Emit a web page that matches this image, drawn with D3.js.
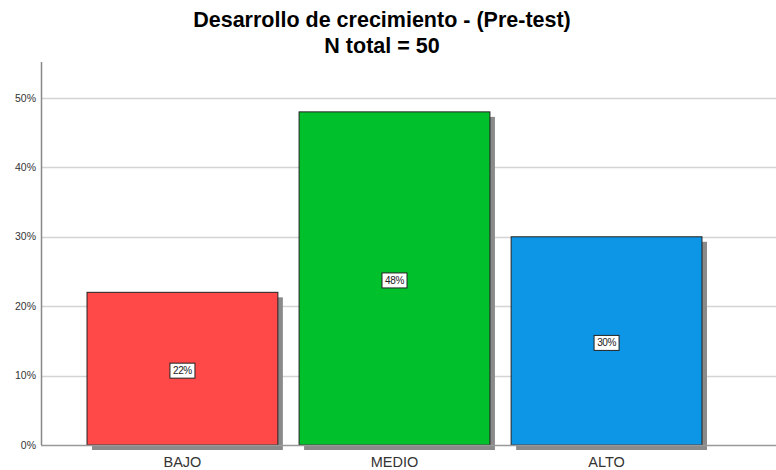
<!DOCTYPE html>
<html>
<head>
<meta charset="utf-8">
<script src="https://cdn.jsdelivr.net/npm/d3@7"></script>
<style>
  body { margin: 0; background: #fff; }
  svg { display: block; font-family: Arial, "Liberation Sans", sans-serif; }
</style>
</head>
<body>
<div id="chart"></div>
<script>
var categories = ['BAJO', 'MEDIO', 'ALTO'];
var percents = [22, 48, 30];
var barColors = ['#ff4848', '#00c12b', '#0e96e6'];
var yTicks = [0, 10, 20, 30, 40, 50];

var width = 776, height = 470;
var plotLeft = 41, plotRight = 776, plotTop = 62, plotBottom = 445;

var svg = d3.select('#chart').append('svg')
  .attr('width', width)
  .attr('height', height);

var y = d3.scaleLinear().domain([0, 50]).range([plotBottom, 98]);

var x = d3.scaleBand()
  .domain(categories)
  .range([plotLeft, 748])
  .paddingInner(0.1)
  .paddingOuter(0.217);

// title
svg.append('text')
  .attr('x', 382).attr('y', 27)
  .attr('text-anchor', 'middle')
  .style('font-size', '21.5px').style('font-weight', 'bold')
  .text('Desarrollo de crecimiento - (Pre-test)');
svg.append('text')
  .attr('x', 382).attr('y', 53)
  .attr('text-anchor', 'middle')
  .style('font-size', '21.5px').style('font-weight', 'bold')
  .text('N total = 50');

// gridlines
svg.append('g').selectAll('line')
  .data(yTicks.filter(function(d){ return d > 0; }))
  .enter().append('line')
  .attr('x1', plotLeft).attr('x2', plotRight)
  .attr('y1', function(d){ return Math.round(y(d)) + 0.5; })
  .attr('y2', function(d){ return Math.round(y(d)) + 0.5; })
  .attr('stroke', '#d4d4d4').attr('stroke-width', 1.5);

// tick labels
svg.append('g').selectAll('text')
  .data(yTicks)
  .enter().append('text')
  .attr('x', plotLeft - 5)
  .attr('y', function(d){ return y(d) + 3.5; })
  .attr('text-anchor', 'end')
  .style('font-size', '10.5px').attr('fill', '#333')
  .text(function(d){ return d + '%'; });

var data = categories.map(function(c, i){
  return { cat: c, value: percents[i], color: barColors[i] };
});

// shadows
svg.append('g').selectAll('rect')
  .data(data)
  .enter().append('rect')
  .attr('x', function(d){ return x(d.cat) + 5; })
  .attr('y', function(d){ return y(d.value) + 5; })
  .attr('width', x.bandwidth())
  .attr('height', function(d){ return plotBottom - y(d.value); })
  .attr('fill', '#8a8a8a');

// bars
svg.append('g').selectAll('rect')
  .data(data)
  .enter().append('rect')
  .attr('x', function(d){ return x(d.cat); })
  .attr('y', function(d){ return y(d.value); })
  .attr('width', x.bandwidth())
  .attr('height', function(d){ return plotBottom - y(d.value); })
  .attr('fill', function(d){ return d.color; })
  .attr('stroke', '#222').attr('stroke-width', 1);

// axis lines
svg.append('line')
  .attr('x1', plotLeft).attr('x2', plotRight)
  .attr('y1', plotBottom + 0.5).attr('y2', plotBottom + 0.5)
  .attr('stroke', '#999').attr('stroke-width', 1.5);
svg.append('line')
  .attr('x1', plotLeft + 0.5).attr('x2', plotLeft + 0.5)
  .attr('y1', plotTop).attr('y2', plotBottom)
  .attr('stroke', '#888').attr('stroke-width', 1.5);

// value labels, sitting at mid-height of each bar
var lab = svg.append('g').selectAll('g')
  .data(data)
  .enter().append('g')
  .attr('transform', function(d){
    return 'translate(' + (x(d.cat) + x.bandwidth() / 2) + ',' + (y(d.value / 2) + 2) + ')';
  });
lab.append('rect')
  .attr('x', -12.5).attr('y', -7.5)
  .attr('width', 25).attr('height', 15)
  .attr('fill', '#fff').attr('stroke', '#222').attr('stroke-width', 1);
lab.append('text')
  .attr('text-anchor', 'middle')
  .attr('y', 3.5)
  .style('font-size', '10px').style('letter-spacing', '-0.4px').attr('fill', '#222')
  .text(function(d){ return d.value + '%'; });

// category labels
svg.append('g').selectAll('text')
  .data(categories)
  .enter().append('text')
  .attr('x', function(d){ return x(d) + x.bandwidth() / 2; })
  .attr('y', 467)
  .attr('text-anchor', 'middle')
  .style('font-size', '14.5px').attr('fill', '#333')
  .text(function(d){ return d; });
</script>
</body>
</html>
